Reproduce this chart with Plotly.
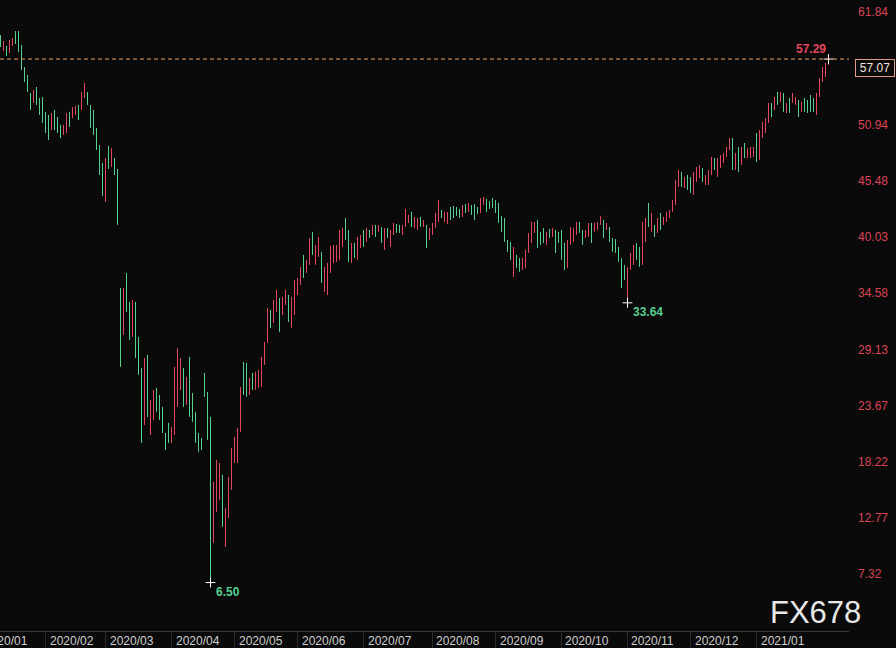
import numpy as np
import pandas as pd
import plotly.graph_objects as go

# ---------------- data ----------------
holidays = ["2020-04-10", "2020-12-25", "2021-01-01"]
dates = [d for d in pd.bdate_range("2020-01-13", "2021-02-05")
         if d.strftime("%Y-%m-%d") not in holidays]

high = [
    59.62, 59.04, 58.56, 59.14, 59.33, 60.01, 60.01, 58.66, 56.52, 55.75,
    54.00, 54.29, 54.58, 53.51, 53.61, 52.16, 51.87, 52.06, 52.35, 51.67,
    50.90, 50.90, 52.06, 52.16, 52.64, 52.74, 52.84, 54.10, 54.97, 54.10,
    52.84, 52.35, 50.60, 48.95, 47.21, 47.69, 48.86, 48.66, 47.69, 46.63,
    35.08, 35.08, 36.54, 33.73, 33.92, 33.73, 30.33, 27.32, 28.29, 28.59,
    24.22, 25.19, 25.38, 24.70, 23.54, 21.02, 21.99, 21.60, 27.42, 29.26,
    28.29, 27.32, 26.45, 28.39, 24.90, 23.06, 21.02, 20.53, 26.84, 25.00,
    22.57, 16.27, 18.40, 18.11, 16.95, 13.74, 16.75, 19.56, 20.63, 21.50,
    25.48, 27.91, 27.81, 26.35, 26.84, 26.94, 27.13, 28.39, 29.85, 33.14,
    32.95, 33.92, 34.89, 34.11, 34.21, 34.89, 34.40, 34.21, 35.86, 36.05,
    37.12, 38.29, 37.80, 39.93, 40.52, 39.26, 40.03, 38.58, 37.12, 37.51,
    39.16, 39.26, 39.26, 40.71, 40.90, 41.87, 40.71, 39.45, 39.45, 40.03,
    40.23, 40.71, 40.90, 40.71, 41.20, 41.20, 41.20, 41.00, 40.90, 40.90,
    40.71, 41.39, 41.29, 41.20, 41.20, 42.75, 42.17, 42.46, 41.97, 41.87,
    41.97, 41.68, 41.20, 40.90, 41.39, 42.36, 43.62, 42.65, 42.46, 42.46,
    42.94, 43.04, 42.94, 42.75, 43.14, 43.23, 43.33, 43.14, 43.23, 42.94,
    43.81, 43.91, 43.72, 43.52, 43.81, 43.62, 43.33, 42.07, 41.87, 39.74,
    39.55, 39.06, 38.29, 37.99, 37.99, 38.77, 40.42, 41.49, 41.49, 41.68,
    40.52, 40.90, 40.52, 40.81, 40.90, 40.71, 40.52, 40.71, 39.45, 39.74,
    41.00, 40.90, 41.49, 41.49, 40.71, 40.71, 41.39, 41.39, 41.39, 41.49,
    42.07, 41.68, 41.39, 41.00, 39.93, 39.84, 39.06, 37.99, 37.32, 37.12,
    38.48, 39.26, 39.45, 39.06, 41.49, 41.87, 43.33, 42.36, 41.20, 41.87,
    42.36, 41.97, 42.46, 42.65, 43.62, 45.56, 46.53, 46.34, 45.85, 46.04,
    45.85, 46.34, 46.82, 47.02, 46.72, 46.04, 46.53, 47.79, 47.69, 47.69,
    47.99, 48.18, 48.76, 49.63, 49.63, 48.18, 48.76, 48.76, 49.15, 48.66,
    48.76, 48.76, 50.12, 50.41, 51.19, 51.57, 53.03, 53.03, 53.61, 54.10,
    54.10, 54.00, 53.03, 53.51, 54.00, 53.61, 53.32, 53.13, 53.51, 53.32,
    53.80, 53.51, 54.00, 55.45, 56.52, 56.91, 57.29,
]

low = [
    58.46, 58.07, 57.59, 57.88, 58.56, 58.75, 57.98, 56.23, 55.07, 54.10,
    52.35, 53.03, 52.84, 51.87, 51.09, 50.12, 49.44, 50.41, 50.41, 50.12,
    49.63, 49.93, 50.12, 50.70, 51.57, 51.87, 51.38, 52.35, 53.51, 52.84,
    50.60, 49.93, 48.47, 46.04, 44.01, 43.43, 46.63, 46.82, 46.04, 41.20,
    27.42, 30.52, 32.76, 30.04, 30.33, 28.29, 26.65, 20.05, 21.79, 22.57,
    20.82, 22.28, 23.06, 22.28, 21.02, 19.37, 20.05, 20.05, 20.82, 23.54,
    25.19, 23.54, 23.74, 22.57, 22.09, 20.05, 19.18, 19.37, 24.51, 20.34,
    6.50, 10.35, 13.36, 14.52, 11.90, 9.96, 12.77, 15.49, 18.11, 18.11,
    21.12, 24.70, 24.51, 24.70, 25.19, 25.19, 25.38, 25.48, 27.62, 29.75,
    31.20, 31.69, 32.76, 30.82, 32.47, 33.44, 31.79, 31.20, 32.47, 34.40,
    35.37, 36.05, 36.54, 37.32, 38.29, 37.32, 38.09, 35.57, 34.69, 34.40,
    36.54, 37.51, 37.61, 37.80, 39.06, 39.74, 37.61, 37.51, 38.00, 37.80,
    38.96, 39.06, 39.55, 39.93, 40.23, 40.03, 40.52, 39.45, 38.77, 39.93,
    39.06, 40.23, 40.42, 40.42, 40.23, 41.00, 41.39, 41.00, 40.90, 40.71,
    41.00, 41.00, 38.96, 39.74, 40.23, 40.90, 41.49, 41.87, 41.49, 41.29,
    41.68, 41.87, 42.07, 41.87, 41.97, 42.36, 42.46, 42.17, 41.68, 42.26,
    42.36, 43.14, 42.46, 42.75, 42.84, 42.36, 41.39, 40.52, 39.55, 38.58,
    37.80, 36.15, 37.02, 36.64, 36.83, 37.02, 38.48, 39.45, 40.42, 38.96,
    39.26, 39.45, 39.26, 39.93, 40.03, 38.48, 39.45, 37.80, 36.83, 37.02,
    39.26, 39.55, 40.23, 40.42, 39.26, 39.93, 40.03, 39.45, 40.52, 40.71,
    41.20, 39.93, 40.71, 39.55, 38.58, 38.48, 37.61, 35.08, 35.86, 33.64,
    36.83, 37.32, 37.80, 37.12, 37.32, 39.55, 41.00, 40.52, 40.03, 40.42,
    40.71, 41.20, 41.49, 41.87, 42.46, 43.14, 44.88, 44.88, 44.78, 44.59,
    44.30, 44.11, 45.37, 45.75, 45.37, 45.07, 45.07, 46.04, 46.53, 45.85,
    46.72, 47.21, 47.79, 48.47, 46.53, 46.53, 46.34, 47.02, 47.69, 47.69,
    47.69, 47.79, 47.31, 47.50, 49.63, 50.12, 51.09, 51.67, 52.35, 52.84,
    53.13, 52.16, 52.06, 52.06, 53.03, 52.84, 51.67, 52.16, 52.16, 52.06,
    52.16, 52.16, 51.87, 53.61, 55.07, 55.55, 56.71,
]

# R = close above open (red), G = close below open (green)
direction = (
    "GRGRRGGGGG" "GRGGGGGRGG" "GRRGRRGRRG" "GGGGGRGRGG" "GRGGRGGGRG"
    "RRGGGGGRRR" "RGRGGGGGGG" "GRRRGRRRRR" "RGGRGRRRRR" "GRRGRRGRRR"
    "RGRRGRRGRR" "RRRRRGGRGR" "RGRGRGRGRG" "RRGGRRRGRR" "GRGRRRRGRR"
    "GGGGRGRGGG" "RRGGGGGGGG" "GRGGRRRRRG" "GGRGRGGGGR" "RRRGGRRGRR"
    "RGRGGGGGGR" "RRGGRRGRGR" "GRRRRRRGRG" "GRRRGRRRGR" "RRRRGRGRGR"
    "RRGRRRRGRG" "RGRGRRGRGG" "GGRRRRR"
)

last_price = 57.07
ytick_vals = [61.84, 50.94, 45.48, 40.03, 34.58, 29.13, 23.67, 18.22, 12.77, 7.32]
month_labels = ["2020/01", "2020/02", "2020/03", "2020/04", "2020/05", "2020/06",
                "2020/07", "2020/08", "2020/09", "2020/10", "2020/11", "2020/12",
                "2021/01"]

# ---------------- styling ----------------
BG = "#0a0a0a"
RED = "#e4455c"
GREEN = "#55d08f"
AXIS_RED = "#dc4456"
FONT = "Liberation Sans, Arial, sans-serif"

n = len(dates)
x0, x1 = -0.5 / 3, 283 - 0.5 / 3
y0, y1 = 1.80, 63.02


def segments(code):
    xs, ys = [], []
    for i in range(n):
        if direction[i] == code:
            xs += [i, i, None]
            ys += [low[i], high[i], None]
    return xs, ys


fig = go.Figure()
for code, col in (("G", GREEN), ("R", RED)):
    xs, ys = segments(code)
    fig.add_trace(go.Scatter(x=xs, y=ys, mode="lines",
                             line=dict(color=col, width=1),
                             hoverinfo="skip", showlegend=False))

# markers: latest bar's high, overall low, and the autumn low
i_hi = n - 1
i_lo = int(np.argmin(low))
i_lo2 = 150 + int(np.argmin(low[150:]))
fig.add_trace(go.Scatter(
    x=[i_hi, i_lo, i_lo2], y=[high[i_hi], low[i_lo], low[i_lo2]],
    mode="markers",
    marker=dict(symbol="cross-thin", size=7, line=dict(color="white", width=1)),
    hoverinfo="skip", showlegend=False))

# dashed line at the latest high
fig.add_shape(type="line", xref="paper", x0=0, x1=1, yref="y",
              y0=high[i_hi], y1=high[i_hi],
              line=dict(color="#eea66c", width=1, dash="4px,3px"))

annotations = [
    dict(x=i_hi, y=high[i_hi], xref="x", yref="y", text=f"{high[i_hi]:.2f}",
         showarrow=False, xanchor="right", yanchor="bottom", xshift=-1, yshift=1,
         font=dict(color=RED, size=12, family=FONT, weight="bold")),
    dict(x=i_lo, y=low[i_lo], xref="x", yref="y", text=f"{low[i_lo]:.2f}",
         showarrow=False, xanchor="left", yanchor="top", xshift=3, yshift=0,
         font=dict(color=GREEN, size=12, family=FONT, weight="bold")),
    dict(x=i_lo2, y=low[i_lo2], xref="x", yref="y", text=f"{low[i_lo2]:.2f}",
         showarrow=False, xanchor="left", yanchor="top", xshift=3, yshift=0,
         font=dict(color=GREEN, size=12, family=FONT, weight="bold")),
    dict(x=1, y=last_price, xref="paper", yref="y", text=f"{last_price:.2f}",
         showarrow=False, xanchor="left", yanchor="top", xshift=6, yshift=2,
         width=36, height=14, borderwidth=1, borderpad=1,
         bordercolor="#e39a88", bgcolor=BG,
         font=dict(color="#f2e2d6", size=12, family=FONT)),
    dict(x=0.9046, y=0.03, xref="paper", yref="paper", text="FX678",
         showarrow=False, xanchor="left", yanchor="middle",
         font=dict(color="#e8e8e8", size=31, family=FONT)),
]

# month positions: first bar of each labelled month (January 2020 lies before the data)
month_idx = []
for lab in month_labels:
    y_, m_ = (int(p) for p in lab.split("/"))
    hits = [i for i, d in enumerate(dates) if d.year == y_ and d.month == m_]
    if hits and hits[0] > 0:
        month_idx.append(hits[0])
    else:
        start = pd.Timestamp(y_, m_, 1)
        month_idx.append(-int(np.busday_count(
            np.datetime64(start.date()) + np.timedelta64(1, "D"),
            np.datetime64(dates[0].date()))))

for pos, txt in zip(month_idx, month_labels):
    annotations.append(dict(
        x=(pos - x0) / (x1 - x0), y=0, xref="paper", yref="paper", text=txt,
        showarrow=False, xanchor="left", yanchor="top", xshift=2, yshift=-1,
        font=dict(color="#cfcfcf", size=12, family=FONT)))

fig.update_layout(
    width=896, height=648,
    margin=dict(l=0, r=47, t=0, b=17),
    paper_bgcolor=BG, plot_bgcolor=BG,
    showlegend=False,
    annotations=annotations,
    xaxis=dict(range=[x0, x1], showgrid=False, zeroline=False,
               showline=True, linecolor="#3a3a3a", linewidth=1,
               tickmode="array", tickvals=month_idx[1:], ticks="outside",
               ticklen=17, tickcolor="#2a2a2a", tickwidth=1,
               showticklabels=False, fixedrange=True),
    yaxis=dict(range=[y0, y1], side="right", showgrid=False, zeroline=False,
               showline=False, tickmode="array", tickvals=ytick_vals,
               ticktext=[f"{v:.2f}" for v in ytick_vals], ticks="",
               ticklabelstandoff=8,
               tickfont=dict(color=AXIS_RED, size=12, family=FONT),
               fixedrange=True),
)

fig.write_html(
    "out.html",
    config={"displayModeBar": False},
    post_script="document.body.style.margin='0';document.body.style.background='#0a0a0a';document.body.style.overflow='hidden';",
)
